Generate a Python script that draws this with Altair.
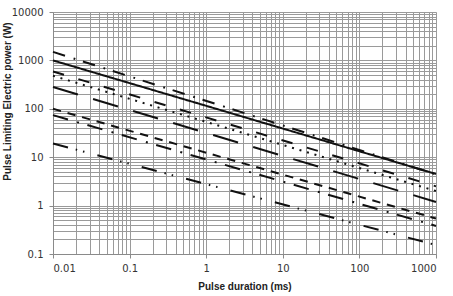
import altair as alt
import pandas as pd

# ---- data ----
duration_ms = [0.01, 1000]                      # x ends of each characteristic line
series = ["A", "B", "C", "D", "E", "F", "G", "H"]
power_at_start = [1500, 1000, 590, 480, 282, 100, 74, 19.2]   # W at 0.01 ms
power_at_end = [4.4, 4.5, 2.5, 2.0, 1.19, 0.54, 0.38, 0.153]  # W at 1000 ms

# ---- styles ----
dash_patterns = [
    [12.6, 9, 1.8, 8],          # A dash-dot
    [1, 0],                     # B solid
    [11.5, 15],                 # C dashed
    [2, 5.8],                   # D dotted
    [26, 15.8],                 # E long dash
    [8.3, 6.8],                 # F dash
    [15.6, 9.5, 2, 8.7],        # G dash-dot
    [15.5, 8, 1.5, 6, 1.5, 13.4],  # H dash-dot-dot
]

rows = []
for s, p0, p1 in zip(series, power_at_start, power_at_end):
    rows.append({"series": s, "t": duration_ms[0], "p": p0})
    rows.append({"series": s, "t": duration_ms[1], "p": p1})
df = pd.DataFrame(rows)

x_grid = [round(m * 10 ** e, 6) for e in range(-2, 3) for m in range(1, 10)] + [1000]
y_grid = [round(m * 10 ** e, 6) for e in range(-1, 4) for m in range(1, 10)] + [10000]

major = "abs(log(datum.value)/LN10 - round(log(datum.value)/LN10)) < 0.001"

common = dict(
    grid=True, gridColor="#9a9a9a", gridWidth=1,
    domainColor="#8a8a8a", tickColor="#8a8a8a", tickSize=4,
    tickOpacity={"condition": {"test": major, "value": 1}, "value": 0},
    labelExpr=f"{major} ? toString(datum.value) : ''",
    labelOverlap=False, labelFont="DejaVu Sans", labelFontSize=10,
    labelColor="#333333",
    titleFont="Liberation Sans", titleFontSize=10, titleFontWeight="bold",
    titleColor="#222222",
)

x_axis = alt.Axis(values=x_grid, title="Pulse duration (ms)", labelPadding=5,
                  titlePadding=8, **common)
y_axis = alt.Axis(values=y_grid, title="Pulse Limiting Electric power (W)",
                  labelPadding=6, titleX=-46, titleY=89, titleAlign="center",
                  titleBaseline="middle", **common)

chart = alt.Chart(df).mark_line(strokeWidth=2, color="#111111", strokeCap="butt").encode(
    x=alt.X("t:Q", scale=alt.Scale(type="log", domain=[0.01, 1000], nice=False), axis=x_axis),
    y=alt.Y("p:Q", scale=alt.Scale(type="log", domain=[0.1, 10000], nice=False), axis=y_axis),
    strokeDash=alt.StrokeDash("series:N", scale=alt.Scale(domain=series, range=dash_patterns),
                              legend=None),
    detail="series:N",
).properties(
    width=383, height=242,
    autosize=alt.AutoSizeParams(type="none"),
    padding={"left": 53, "top": 12, "right": 17, "bottom": 42},
).configure_view(stroke="#9a9a9a").configure(background="white")

chart.save("out.html", embed_options={"renderer": "svg", "actions": False})
